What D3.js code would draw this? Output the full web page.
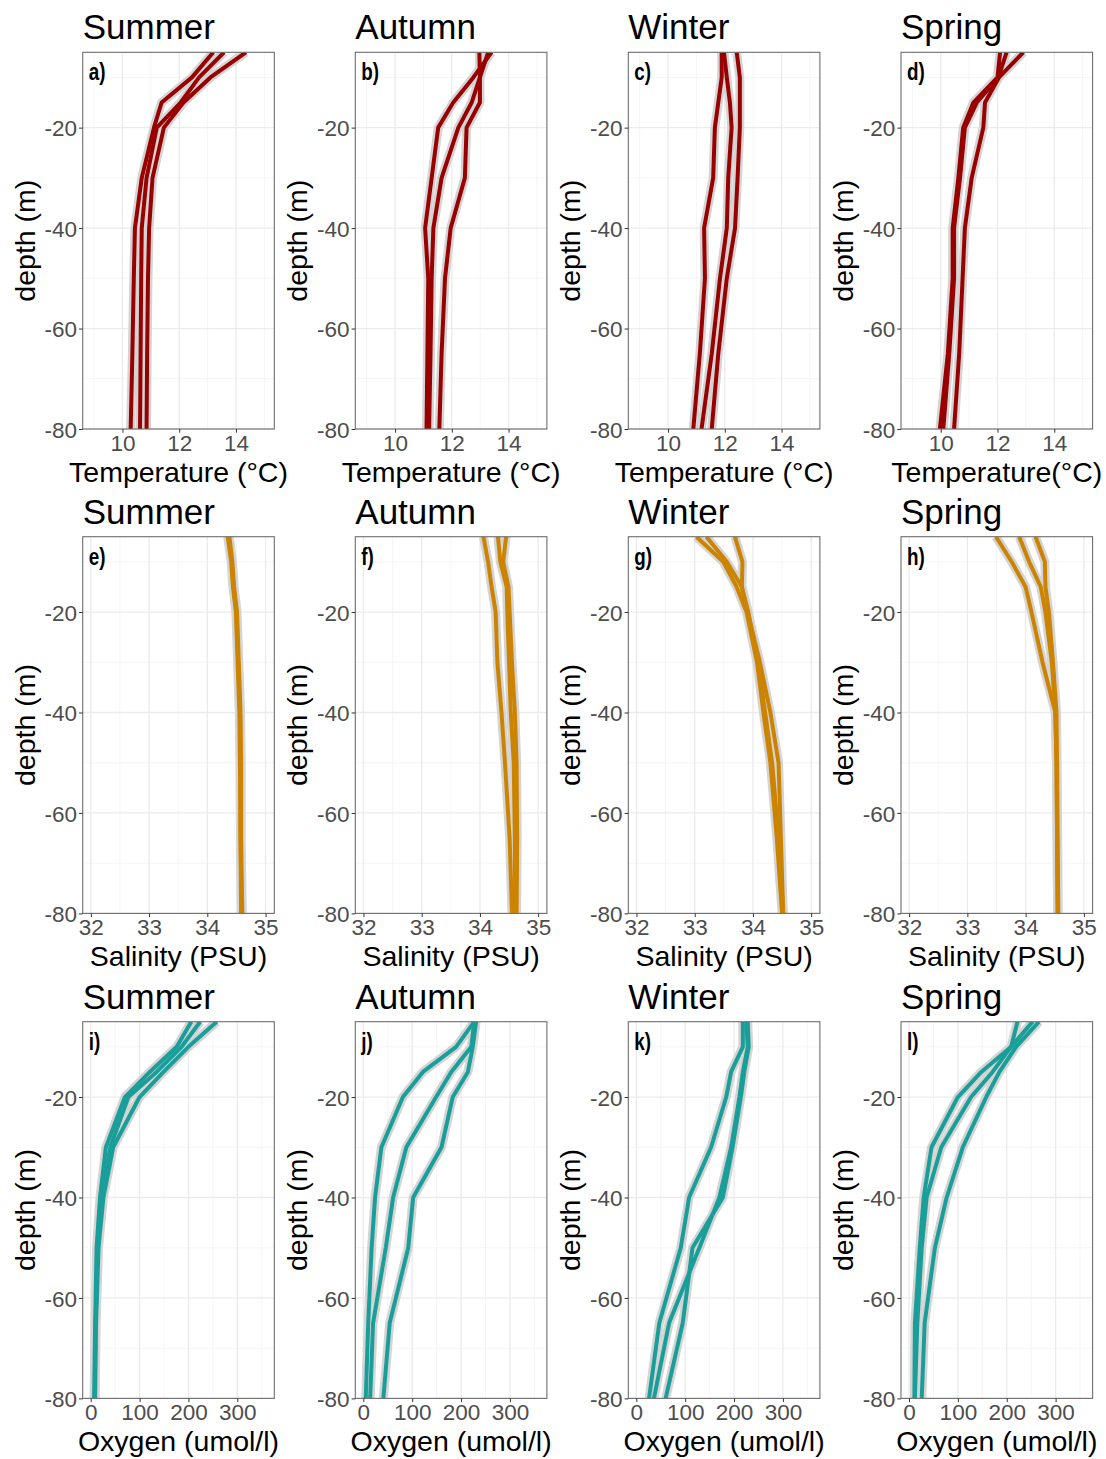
<!DOCTYPE html>
<html>
<head>
<meta charset="utf-8">
<script src="https://cdn.jsdelivr.net/npm/d3@7"></script>
<style>
  html, body { margin: 0; padding: 0; background: #fff; }
  svg { display: block; }
</style>
</head>
<body>
<svg id="chart" width="1106" height="1459"></svg>
<script>
// ---------------- DATA ----------------
const depth = [-5, -10, -15, -20, -30, -40, -50, -65, -80];
const seasons = ["Summer", "Autumn", "Winter", "Spring"];
const panelLetters = [["a)", "b)", "c)", "d)"], ["e)", "f)", "g)", "h)"], ["i)", "j)", "k)", "l)"]];
const xTitles = [
  ["Temperature (°C)", "Temperature (°C)", "Temperature (°C)", "Temperature(°C)"],
  ["Salinity (PSU)", "Salinity (PSU)", "Salinity (PSU)", "Salinity (PSU)"],
  ["Oxygen (umol/l)", "Oxygen (umol/l)", "Oxygen (umol/l)", "Oxygen (umol/l)"]
];
const yTitle = "depth (m)";
const depthTicks = [-80, -60, -40, -20];
const depthMinor = [-70, -50, -30, -10];
const tempTicks = [10, 12, 14];
const tempMinor = [9, 11, 13, 15];
const salTicks = [32, 33, 34, 35];
const salMinor = [32.5, 33.5, 34.5];
const oxyTicks = [0, 100, 200, 300];
const oxyMinor = [50, 150, 250, 350];

// Temperature (°C), three profiles per season
const tempSummer = [
  [13.20, 12.45, 11.38, 11.11, 10.68, 10.44, 10.40, 10.35, 10.29],
  [13.58, 12.70, 12.05, 11.21, 10.85, 10.68, 10.66, 10.64, 10.62],
  [14.35, 13.10, 12.15, 11.46, 11.06, 10.94, 10.90, 10.87, 10.85]
];
const tempAutumn = [
  [13.40, 12.76, 12.05, 11.52, 11.29, 11.06, 11.17, 11.14, 11.11],
  [13.28, 12.99, 12.70, 12.23, 11.64, 11.35, 11.29, 11.25, 11.20],
  [12.97, 12.99, 12.99, 12.52, 12.46, 11.96, 11.76, 11.64, 11.56]
];
const tempWinter = [
  [11.89, 11.89, 11.77, 11.65, 11.59, 11.27, 11.30, 11.12, 10.89],
  [11.97, 12.07, 12.18, 12.24, 12.12, 12.07, 11.83, 11.54, 11.18],
  [12.42, 12.53, 12.53, 12.53, 12.45, 12.36, 12.07, 11.77, 11.54]
];
const tempSpring = [
  [12.09, 12.00, 11.15, 10.79, 10.62, 10.42, 10.42, 10.25, 9.97],
  [12.32, 12.03, 11.27, 10.85, 10.68, 10.47, 10.47, 10.30, 10.09],
  [12.91, 12.05, 11.56, 11.50, 11.09, 10.85, 10.77, 10.65, 10.47]
];

// Salinity (PSU)
const salSummer = [
  [34.36, 34.42, 34.45, 34.50, 34.53, 34.56, 34.57, 34.57, 34.59],
  [34.38, 34.43, 34.46, 34.51, 34.54, 34.57, 34.58, 34.58, 34.60],
  [34.35, 34.41, 34.44, 34.49, 34.52, 34.55, 34.56, 34.57, 34.58]
];
const salAutumn = [
  [34.06, 34.14, 34.20, 34.27, 34.30, 34.37, 34.43, 34.51, 34.55],
  [34.31, 34.35, 34.46, 34.47, 34.50, 34.53, 34.58, 34.60, 34.60],
  [34.45, 34.40, 34.49, 34.51, 34.55, 34.60, 34.63, 34.64, 34.63]
];
const salWinter = [
  [33.03, 33.49, 33.72, 33.89, 34.07, 34.18, 34.30, 34.41, 34.50],
  [33.20, 33.55, 33.81, 33.92, 34.09, 34.21, 34.33, 34.44, 34.52],
  [33.69, 33.82, 33.81, 33.91, 34.12, 34.30, 34.44, 34.48, 34.52]
];
const salSpring = [
  [33.49, 33.76, 34.00, 34.10, 34.29, 34.51, 34.53, 34.54, 34.55],
  [33.89, 34.06, 34.26, 34.34, 34.45, 34.51, 34.53, 34.54, 34.55],
  [34.17, 34.33, 34.34, 34.40, 34.47, 34.53, 34.54, 34.55, 34.56]
];

// Oxygen (umol/l)
const oxySummer = [
  [206, 176, 121, 70, 31, 19, 12, 9, 7],
  [224, 186, 135, 77, 40, 22, 14, 10, 8],
  [258, 200, 149, 100, 46, 26, 16, 11, 9]
];
const oxyAutumn = [
  [227, 190, 122, 81, 37, 24, 17, 10, 5],
  [227, 221, 180, 149, 88, 61, 46, 20, 14],
  [231, 224, 214, 183, 160, 102, 92, 54, 41]
];
const oxyWinter = [
  [218, 218, 194, 184, 153, 108, 91, 47, 26],
  [225, 228, 218, 211, 194, 170, 129, 67, 36],
  [228, 230, 221, 214, 197, 177, 115, 95, 60]
];
const oxySpring = [
  [222, 209, 148, 100, 46, 30, 22, 12, 11],
  [253, 209, 171, 127, 66, 36, 26, 17, 12],
  [266, 219, 185, 158, 110, 77, 53, 32, 26]
];

// ---------------- LAYOUT / STYLE ----------------
const rows = [
  { data: [tempSummer, tempAutumn, tempWinter, tempSpring], domain: [8.6, 15.35], ticks: tempTicks, minor: tempMinor, color: "#990000" },
  { data: [salSummer, salAutumn, salWinter, salSpring], domain: [31.86, 35.15], ticks: salTicks, minor: salMinor, color: "#cc8400" },
  { data: [oxySummer, oxyAutumn, oxyWinter, oxySpring], domain: [-16.4, 375.7], ticks: oxyTicks, minor: oxyMinor, color: "#1a9e9a" }
];
const colLeft = [82.7, 355.3, 628.3, 901];
const rowTop = [52.3, 536.7, 1021.7];
const pw = 191.6, ph = 376.7;
const FONT = "'Liberation Sans', Arial, sans-serif";
const fmt = d => String(d);

const svg = d3.select("#chart");
const defs = svg.append("defs");

rows.forEach((row, r) => {
  row.data.forEach((series, c) => {
    const x0 = colLeft[c], y0 = rowTop[r];
    const g = svg.append("g").attr("transform", `translate(${x0},${y0})`);
    const x = d3.scaleLinear().domain(row.domain).range([0, pw]);
    const y = d3.scaleLinear().domain([-80, -5]).range([ph, 0]);

    const clipId = `clip-${r}-${c}`;
    defs.append("clipPath").attr("id", clipId)
      .append("rect").attr("width", pw).attr("height", ph);

    // grid
    const grid = g.append("g");
    grid.selectAll(".vmin").data(row.minor).join("line")
      .attr("x1", d => x(d)).attr("x2", d => x(d)).attr("y1", 0).attr("y2", ph)
      .attr("stroke", "#f3f3f3").attr("stroke-width", 0.8);
    grid.selectAll(".hmin").data(depthMinor).join("line")
      .attr("y1", d => y(d)).attr("y2", d => y(d)).attr("x1", 0).attr("x2", pw)
      .attr("stroke", "#f3f3f3").attr("stroke-width", 0.8);
    grid.selectAll(".vmaj").data(row.ticks).join("line")
      .attr("x1", d => x(d)).attr("x2", d => x(d)).attr("y1", 0).attr("y2", ph)
      .attr("stroke", "#ebebeb").attr("stroke-width", 1.3);
    grid.selectAll(".hmaj").data(depthTicks).join("line")
      .attr("y1", d => y(d)).attr("y2", d => y(d)).attr("x1", 0).attr("x2", pw)
      .attr("stroke", "#ebebeb").attr("stroke-width", 1.3);

    // lines with grey ribbon halo
    const line = d3.line().x(d => x(d[0])).y(d => y(d[1]));
    const lg = g.append("g").attr("clip-path", `url(#${clipId})`);
    const paths = series.map(vals => vals.map((v, i) => [v, depth[i]]));
    lg.selectAll(".halo").data(paths).join("path")
      .attr("d", line).attr("fill", "none")
      .attr("stroke", "#d4d4d4").attr("stroke-width", 9)
      .attr("stroke-linejoin", "round").attr("stroke-linecap", "butt");
    lg.selectAll(".ln").data(paths).join("path")
      .attr("d", line).attr("fill", "none")
      .attr("stroke", row.color).attr("stroke-width", 4)
      .attr("stroke-linejoin", "round").attr("stroke-linecap", "butt");

    // border
    g.append("rect").attr("width", pw).attr("height", ph)
      .attr("fill", "none").attr("stroke", "#6e6e6e").attr("stroke-width", 1.1);

    // axes
    const xa = g.append("g").attr("transform", `translate(0,${ph})`)
      .call(d3.axisBottom(x).tickValues(row.ticks).tickFormat(fmt).tickSize(3.7).tickSizeOuter(0).tickPadding(2));
    const ya = g.append("g")
      .call(d3.axisLeft(y).tickValues(depthTicks).tickFormat(fmt).tickSize(3.7).tickSizeOuter(0).tickPadding(2));
    [xa, ya].forEach(a => {
      a.select(".domain").remove();
      a.selectAll(".tick line").attr("stroke", "#333");
      a.selectAll(".tick text").attr("fill", "#4d4d4d")
        .style("font-family", FONT).style("font-size", "22.5px");
    });
    ya.selectAll(".tick text").attr("dy", "0.36em");

    // panel title
    g.append("text").attr("x", 0).attr("y", -13)
      .style("font-family", FONT).style("font-size", "35px").attr("fill", "#000")
      .text(seasons[c]);

    // panel letter (condensed bold)
    g.append("text")
      .attr("transform", "translate(6,28) scale(0.82,1)")
      .style("font-family", FONT)
      .style("font-weight", "bold").style("font-size", "23px").attr("fill", "#000")
      .text(panelLetters[r][c]);

    // x title
    g.append("text").attr("x", pw / 2).attr("y", ph + 53)
      .attr("text-anchor", "middle")
      .style("font-family", FONT).style("font-size", "28.5px").attr("fill", "#000")
      .text(xTitles[r][c]);

    // y title
    g.append("text")
      .attr("transform", `translate(-48,${ph / 2}) rotate(-90)`)
      .attr("text-anchor", "middle")
      .style("font-family", FONT).style("font-size", "28.5px").attr("fill", "#000")
      .text(yTitle);
  });
});
</script>
</body>
</html>
